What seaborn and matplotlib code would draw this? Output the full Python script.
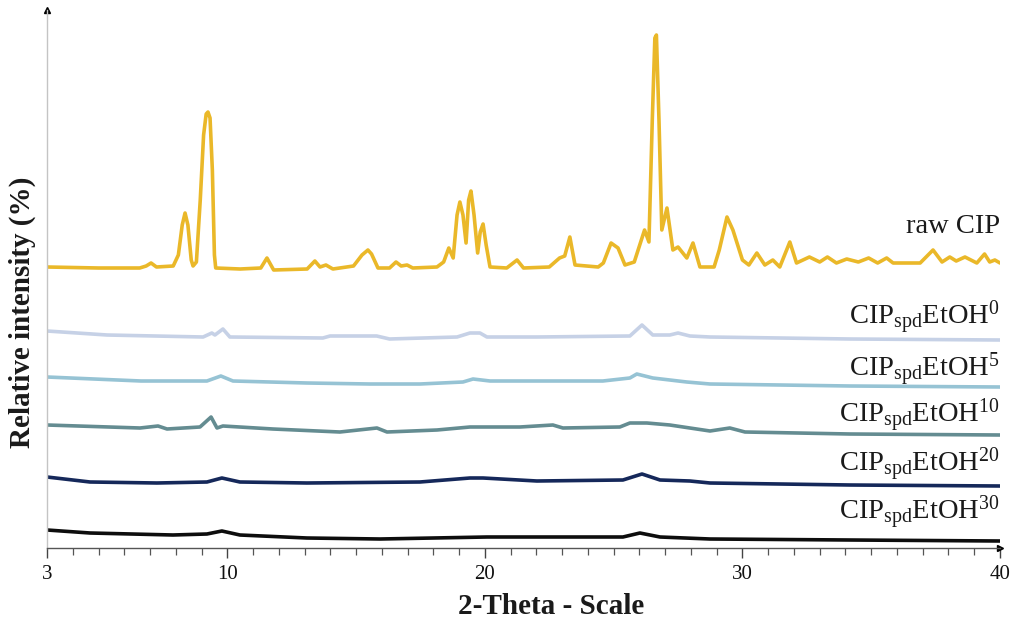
import matplotlib
matplotlib.use("Agg")
import matplotlib.pyplot as plt
from matplotlib.ticker import MultipleLocator
import seaborn as sns
import pandas as pd

# XRD patterns (2-theta, stacked relative intensity)
raw_theta = [3.0, 5.0, 6.6, 6.85, 7.04, 7.25, 7.9, 8.1, 8.25, 8.36, 8.47, 8.6, 8.67, 8.8,
             8.95, 9.08, 9.18, 9.25, 9.33, 9.42, 9.5, 9.55, 10.5, 11.3, 11.54, 11.8, 13.1,
             13.4, 13.6, 13.83, 14.1, 14.9, 15.23, 15.46, 15.6, 15.85, 16.3, 16.55, 16.75,
             16.98, 17.2, 18.14, 18.4, 18.6, 18.77, 18.92, 19.03, 19.15, 19.27, 19.37, 19.46,
             19.58, 19.72, 19.82, 19.93, 20.05, 20.2, 20.85, 21.25, 21.5, 22.5, 22.9, 23.1,
             23.3, 23.5, 24.4, 24.6, 24.9, 25.17, 25.44, 25.8, 26.2, 26.37, 26.5, 26.6, 26.66,
             26.76, 26.87, 27.07, 27.3, 27.5, 27.84, 28.08, 28.35, 28.9, 29.1, 29.4, 29.63,
             30.0, 30.25, 30.56, 30.87, 31.18, 31.45, 31.84, 32.1, 32.6, 33.0, 33.3, 33.65,
             34.05, 34.5, 34.9, 35.25, 35.6, 35.85, 36.9, 37.4, 37.75, 38.05, 38.3, 38.64,
             39.1, 39.4, 39.6, 39.8, 40.0]
raw_int = [281, 280, 280, 282, 285, 281, 282, 293, 323, 335, 323, 288, 282, 286,
           348, 413, 434, 436, 430, 378, 293, 280, 279, 280, 290, 278, 279,
           287, 281, 283, 279, 282, 293, 298, 294, 280, 280, 286, 282,
           283, 280, 281, 286, 300, 290, 333, 346, 333, 305, 348, 357,
           333, 295, 316, 324, 303, 281, 280, 288, 280, 281, 290, 292,
           311, 283, 281, 285, 305, 300, 283, 286, 318, 306, 428, 510, 513,
           428, 318, 340, 298, 301, 290, 305, 281, 281, 298, 331, 318,
           288, 283, 295, 283, 288, 281, 306, 285, 291, 286, 291, 285,
           289, 286, 290, 285, 290, 285, 285, 298, 286, 291, 287, 291,
           285, 294, 286, 288, 285]

e0_theta = [3.0, 5.33, 9.06, 9.4, 9.52, 9.83, 10.1, 13.71, 13.99, 15.8, 16.3, 18.92, 19.42,
            19.81, 20.08, 22.02, 25.63, 26.1, 26.52, 27.18, 27.5, 27.96, 28.74, 34.17, 40.0]
e0_int = [217, 213, 211, 215, 213, 219, 211, 210, 212, 212, 209, 211, 215,
          215, 211, 211, 212, 223, 213, 213, 215, 212, 211, 209, 208]

e5_theta = [3.0, 6.65, 9.21, 9.75, 10.22, 13.09, 15.54, 17.48, 19.15, 19.54, 20.2, 24.58,
            25.63, 25.9, 26.52, 27.84, 28.74, 34.17, 40.0]
e5_int = [171, 167, 167, 172, 167, 165, 164, 164, 166, 169, 167, 167,
          170, 174, 170, 166, 164, 162, 161]

e10_theta = [3.0, 6.61, 7.31, 7.66, 8.94, 9.37, 9.6, 9.83, 11.77, 14.37, 15.81, 16.2, 18.14,
             19.42, 21.36, 22.64, 23.03, 25.24, 25.63, 26.29, 27.18, 28.74, 29.51, 30.1,
             34.17, 40.0]
e10_int = [123, 120, 122, 119, 121, 131, 120, 122, 119, 116, 120, 116, 118,
           121, 121, 123, 120, 121, 125, 125, 123, 117, 120, 116,
           114, 113]

e20_theta = [3.0, 4.67, 7.27, 9.21, 9.79, 10.49, 13.09, 17.48, 19.42, 19.93, 22.02, 25.36,
             26.1, 26.8, 27.96, 28.74, 34.17, 40.0]
e20_int = [71, 66, 65, 66, 70, 66, 65, 66, 70, 70, 67, 68,
           74, 68, 67, 65, 63, 62]

e30_theta = [3.0, 4.67, 7.89, 9.21, 9.79, 10.49, 13.09, 15.93, 20.08, 23.3, 25.36, 26.02,
             26.8, 28.74, 34.17, 40.0]
e30_int = [18, 15, 13, 14, 17, 13, 10, 9, 11, 11, 11, 15,
           11, 9, 8, 7]

samples = ["raw CIP", "EtOH0", "EtOH5", "EtOH10", "EtOH20", "EtOH30"]
labels = ["raw CIP",
          r"CIP$_{\mathrm{spd}}$EtOH$^{0}$",
          r"CIP$_{\mathrm{spd}}$EtOH$^{5}$",
          r"CIP$_{\mathrm{spd}}$EtOH$^{10}$",
          r"CIP$_{\mathrm{spd}}$EtOH$^{20}$",
          r"CIP$_{\mathrm{spd}}$EtOH$^{30}$"]
label_y = [315, 223, 171, 125, 76, 28]
colors = ["#EAB829", "#C6D1E6", "#96C3D4", "#648C91", "#15285A", "#0D0D0D"]

sns.set_style("ticks")
plt.rcParams["font.family"] = ["Liberation Serif", "DejaVu Serif"]
plt.rcParams["mathtext.fontset"] = "custom"
plt.rcParams["mathtext.rm"] = "Liberation Serif"
plt.rcParams["mathtext.it"] = "Liberation Serif:italic"

thetas = [raw_theta, e0_theta, e5_theta, e10_theta, e20_theta, e30_theta]
ints = [raw_int, e0_int, e5_int, e10_int, e20_int, e30_int]
df = pd.concat([pd.DataFrame({"theta": t, "intensity": i, "sample": s})
                for t, i, s in zip(thetas, ints, samples)], ignore_index=True)

fig = plt.figure(figsize=(10.11, 6.2), dpi=100)
ax = fig.add_axes([47 / 1011, 72 / 620, 953 / 1011, 538 / 620])

sns.lineplot(data=df, x="theta", y="intensity", hue="sample", hue_order=samples,
             palette=dict(zip(samples, colors)), estimator=None, sort=False,
             legend=False, linewidth=2.6, ax=ax)
for line in ax.get_lines():
    line.set_solid_joinstyle("round")

for lab, y in zip(labels, label_y):
    ax.text(40, y, lab, ha="right", va="baseline", fontsize=20.5, color="#1a1a1a")

ax.set_xlim(3, 40)
ax.set_ylim(0, 538)
ax.set_xticks([3, 10, 20, 30, 40])
ax.xaxis.set_minor_locator(MultipleLocator(1))
ax.set_yticks([])
ax.tick_params(axis="x", which="major", direction="out", length=7, width=1,
               color="#444444", labelsize=15, labelcolor="#111111", pad=5)
ax.tick_params(axis="x", which="minor", direction="out", length=5, width=0.9,
               color="#555555")

sns.despine(ax=ax)
ax.spines["left"].set_color("#c4c4c4")
ax.spines["bottom"].set_color("#555555")
ax.spines["left"].set_linewidth(1)
ax.spines["bottom"].set_linewidth(1)

# axis arrowheads
ax.plot(1, 0, ">", transform=ax.transAxes, clip_on=False, color="black", ms=5)
ax.plot(0, 1, "^", transform=ax.transAxes, clip_on=False, color="black", ms=5)

ax.set_xlabel("2-Theta - Scale", fontsize=21, fontweight="bold", color="#1a1a1a")
ax.set_ylabel("Relative intensity (%)", fontsize=21, fontweight="bold", color="#1a1a1a")
ax.xaxis.set_label_coords(0.529, -0.083)
ax.yaxis.set_label_coords(-0.012, 0.439)

fig.savefig("out.png", dpi=100, facecolor="white")
plt.close(fig)
